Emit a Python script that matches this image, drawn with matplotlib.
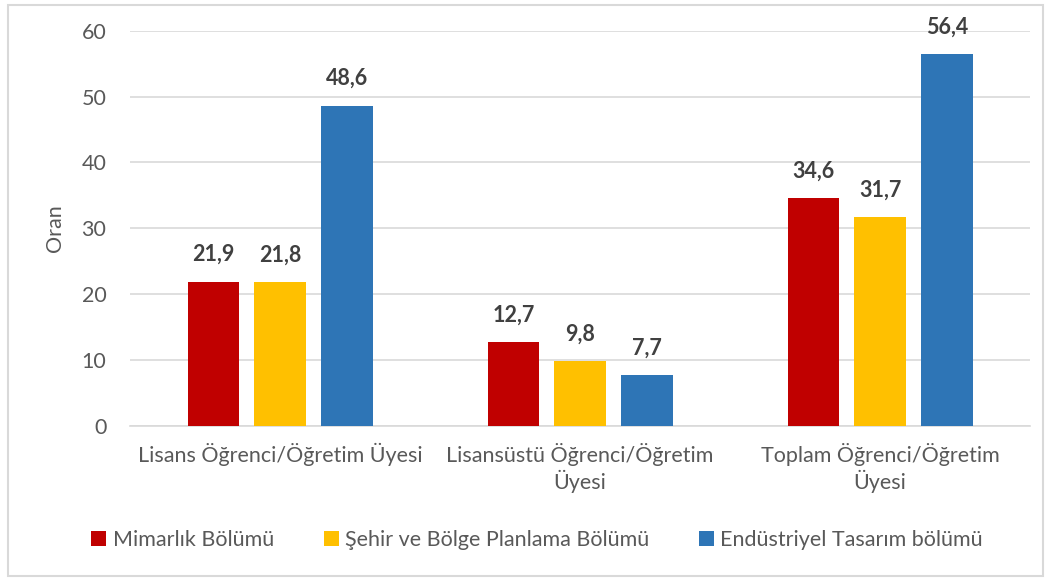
import matplotlib.pyplot as plt
from matplotlib.patches import Rectangle
import numpy as np

plt.rcParams['font.family'] = ['Lato', 'DejaVu Sans']

categories = ['Lisans Öğrenci/Öğretim Üyesi',
              'Lisansüstü Öğrenci/Öğretim\nÜyesi',
              'Toplam Öğrenci/Öğretim\nÜyesi']
series_names = ['Mimarlık Bölümü', 'Şehir ve Bölge Planlama Bölümü',
                'Endüstriyel Tasarım bölümü']
mimarlik = [21.9, 12.7, 34.6]
sehir = [21.8, 9.8, 31.7]
endustri = [48.6, 7.7, 56.4]
colors = ['#C00000', '#FFC000', '#2E75B6']
yticks = [0, 10, 20, 30, 40, 50, 60]

text_color = '#595959'
fs = 15.5

fig = plt.figure(figsize=(10.49, 5.81), dpi=100)
ax = fig.add_axes([0.124, 0.267, 0.858, 0.68])

x = np.arange(len(categories))
width = 0.173
step = 0.222
for i, (vals, name, c) in enumerate(zip([mimarlik, sehir, endustri], series_names, colors)):
    bars = ax.bar(x + (i - 1) * step, vals, width, color=c, label=name, zorder=3)
    for b, v in zip(bars, vals):
        ax.annotate(('%.1f' % v).replace('.', ','),
                    (b.get_x() + b.get_width() / 2, v),
                    xytext=(0, 12), textcoords='offset points',
                    ha='center', va='bottom', fontsize=fs,
                    fontweight='bold', color='#404040')

ax.set_xlim(-0.5, 2.5)
ax.set_ylim(0, 60)
ax.set_yticks(yticks)
ax.set_xticks(x)
ax.set_xticklabels(categories, fontsize=fs, color=text_color, linespacing=1.2)
ax.tick_params(axis='y', labelsize=fs, labelcolor=text_color, length=0, pad=17)
ax.tick_params(axis='x', length=0, pad=12)
ax.set_ylabel('Oran', fontsize=fs, color=text_color, labelpad=12)
ax.grid(axis='y', color='#D9D9D9', linewidth=1.2, zorder=0)
for s in ['top', 'right', 'left']:
    ax.spines[s].set_visible(False)
ax.spines['bottom'].set_color('#D9D9D9')
ax.spines['bottom'].set_linewidth(1.2)

fig.legend(loc='center', bbox_to_anchor=(0.512, 0.07), ncol=3, frameon=False,
           fontsize=fs, labelcolor=text_color, handlelength=0.7,
           handleheight=0.7, handletextpad=0.3, columnspacing=2.3)

fig.patches.append(Rectangle((0.008, 0.008), 0.986, 0.984, transform=fig.transFigure,
                             fill=False, edgecolor='#D9D9D9', linewidth=1.5))

fig.savefig('out.png', dpi=100)
